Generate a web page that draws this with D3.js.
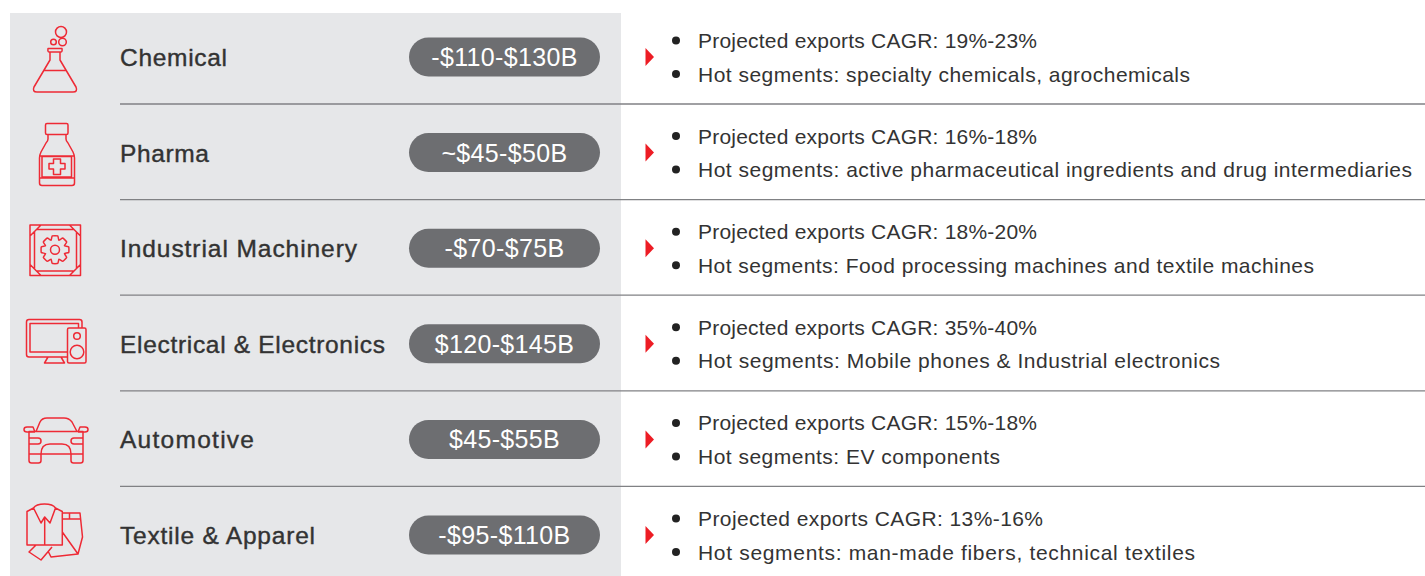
<!DOCTYPE html>
<html>
<head>
<meta charset="utf-8">
<script src="https://cdn.jsdelivr.net/npm/d3@7"></script>
<style>
  html, body { margin: 0; padding: 0; background: #fff; }
  svg { display: block; }
  text { font-family: "Liberation Sans", sans-serif; }
  .sector { font-size: 24.5px; fill: #333; stroke: #333; stroke-width: .4px; }
  .range { font-size: 25px; fill: #fff; letter-spacing: .35px; }
  .note { font-size: 21px; fill: #333; }
</style>
</head>
<body>
<div id="chart"></div>
<script>
const sectors = ["Chemical", "Pharma", "Industrial Machinery", "Electrical & Electronics", "Automotive", "Textile & Apparel"]
const ranges = ["-$110-$130B", "~$45-$50B", "-$70-$75B", "$120-$145B", "$45-$55B", "-$95-$110B"]
const cagr = ["19%-23%", "16%-18%", "18%-20%", "35%-40%", "15%-18%", "13%-16%"]
const segments = [
    "specialty chemicals, agrochemicals",
    "active pharmaceutical ingredients and drug intermediaries",
    "Food processing machines and textile machines",
    "Mobile phones & Industrial electronics",
    "EV components",
    "man-made fibers, technical textiles"
]

const width = 1425
const height = 576
const red = "#ee2a35"

// the original font is wider than Liberation, so labels get stretched to these lengths
const sectorFit = [107, 89, 237, 265, 134, 195]
const cagrFit = [339, 339, 339, 339, 339, 345]
const hotFit = [492, 714, 616, 522, 302, 497]

const svg = d3.select("#chart").append("svg")
    .attr("width", width)
    .attr("height", height)

svg.append("rect")
    .attr("x", 10)
    .attr("y", 13)
    .attr("width", 611)
    .attr("height", height - 13)
    .attr("fill", "#e6e7e9")

let y = d3.scalePoint()
    .domain(sectors)
    .range([57, 535])

let rows = svg.selectAll(".row")
    .data(sectors)
    .enter()
    .append("g")
    .attr("class", "row")
    .attr("transform", d => "translate(0," + y(d) + ")")

// separators, none under the last row
rows.filter((d, i) => i < sectors.length - 1)
    .append("line")
    .attr("x1", 120)
    .attr("x2", width)
    .attr("y1", 47)
    .attr("y2", 47)
    .attr("stroke", "#808184")
    .attr("stroke-width", 1.3)

rows.append("text")
    .attr("class", "sector")
    .attr("x", 120)
    .attr("y", 9)
    .attr("textLength", (d, i) => sectorFit[i])
    .text(d => d)

rows.append("rect")
    .attr("x", 409)
    .attr("y", -19.5)
    .attr("width", 191)
    .attr("height", 39)
    .attr("rx", 19.5)
    .attr("fill", "#6d6e71")

rows.append("text")
    .attr("class", "range")
    .attr("x", 504.5)
    .attr("y", 9)
    .attr("text-anchor", "middle")
    .text((d, i) => ranges[i])

rows.append("path")
    .attr("d", "M645.5,-9L654,0L645.5,9Z")
    .attr("fill", "#ed1c24")

rows.selectAll(".bullet")
    .data([-16.5, 17])
    .enter()
    .append("circle")
    .attr("class", "bullet")
    .attr("cx", 676)
    .attr("cy", d => d)
    .attr("r", 4)
    .attr("fill", "#222")

rows.append("text")
    .attr("class", "note")
    .attr("x", 698)
    .attr("y", -9)
    .attr("textLength", (d, i) => cagrFit[i])
    .text((d, i) => "Projected exports CAGR: " + cagr[i])

rows.append("text")
    .attr("class", "note")
    .attr("x", 698)
    .attr("y", 24.5)
    .attr("textLength", (d, i) => hotFit[i])
    .text((d, i) => "Hot segments: " + segments[i])

// icons, drawn in page coordinates
let icons = svg.append("g")
    .attr("fill", "none")
    .attr("stroke", red)
    .attr("stroke-width", 1.5)
    .attr("stroke-linejoin", "round")

function gear(cx, cy) {
    let pts = []
    for (let i = 0; i < 8; i++) {
        let a = i * Math.PI / 4
        pts.push([a - .2, 14], [a + .2, 14], [a + .39, 10.2])
    }
    return d3.line().curve(d3.curveCardinalClosed.tension(.6))
        .x(p => cx + p[1] * Math.cos(p[0]))
        .y(p => cy + p[1] * Math.sin(p[0]))(pts)
}

const iconPaths = [
    // flask
    "M48,48.5H62Q62.5,52 61,52H49Q47.5,52 48,48.5Z M50,52V60L34,87Q32,92 37,92H73Q78,92 76,87L60,60V52 M44,70.5H66",
    // bottle
    "M47,123.5H66.5Q68,123.5 68,125V133Q68,134.5 66.5,134.5H47Q45.5,134.5 45.5,133V125Q45.5,123.5 47,123.5Z M48,134.5V139Q48,141 46,143L41,152Q39.5,155 39.5,158V183Q39.5,185.5 42,185.5H72Q74.5,185.5 74.5,183V158Q74.5,155 73,152L68,143Q66,141 66,139V134.5 M39.5,156H74.5 M39.5,178H74.5 M42,156.5H71.5V177H42Z M53.5,159H60.5V163.5H65V169H60.5V174.5H53.5V169H49V163.5H53.5Z",
    // gear box
    "M30,225H80.5V275.5H30Z M41,225L30,236 M69.5,225L80.5,236 M41,275.5L30,264.5 M69.5,275.5L80.5,264.5 M34.5,232V268.5 M76.5,232V268.5 M37,229.5H73.5 M37,271H73.5",
    // monitor and speaker
    "M67.5,357H29Q26.5,357 26.5,354.5V322Q26.5,319.5 29,319.5H79.5Q82,319.5 82,322V328 M67.5,352H30V323.5H78.5V328 M48,357L44.5,363H64.5L61,357 M44.5,363H64.5 M69,328H84.5Q86,328 86,329.5V361.5Q86,363 84.5,363H69Q67.5,363 67.5,361.5V329.5Q67.5,328 69,328Z",
    // car
    "M36,431.5L40,422Q42,418 47,418H64Q69,418 72,422L77,431.5 M29,431.5H83V454H29Z M29,454V460.5Q29,463 31.5,463H38.5Q41,463 41,460.5V454 M71,454V460.5Q71,463 73.5,463H80.5Q83,463 83,460.5V454 M41,454Q41,444 50,444H62Q71,444 71,454 M29,438H38Q41,438 41,441Q41,444 38,444H29 M83,438H74Q71,438 71,441Q71,444 74,444H83 M35,432L33,427H27Q24,427 24,429.5Q24,432 27,432H35 M78,432L80,427H85Q88,427 88,429.5Q88,432 85,432H78",
    // shirt and trousers
    "M33.5,508L27,511.5V545H62.3V511.5L55.5,508 M44.7,517V545 M33.5,508Q36,504 44.5,504Q53,504 55.5,508 M33.5,508L41,523L44.7,517L50,523L55.5,508 M62.3,513H80L82.5,537L78,554L51,557L48,551 M62.3,519H80 M69.5,513V519 M62.3,532L78,554 M36,545L29,552L41,560L52,547"
]

icons.selectAll(".icon")
    .data(iconPaths)
    .enter()
    .append("path")
    .attr("class", "icon")
    .attr("d", d => d)

icons.append("path").attr("d", gear(55, 249.7))

const iconCircles = [
    [61, 32, 5.5], [62.5, 42, 3.8], [53.5, 42, 2.8],
    [55, 249.7, 4.5],
    [77, 336, 3.3], [77, 352, 6.8]
]

icons.selectAll(".ring")
    .data(iconCircles)
    .enter()
    .append("circle")
    .attr("class", "ring")
    .attr("cx", d => d[0])
    .attr("cy", d => d[1])
    .attr("r", d => d[2])
</script>
</body>
</html>
